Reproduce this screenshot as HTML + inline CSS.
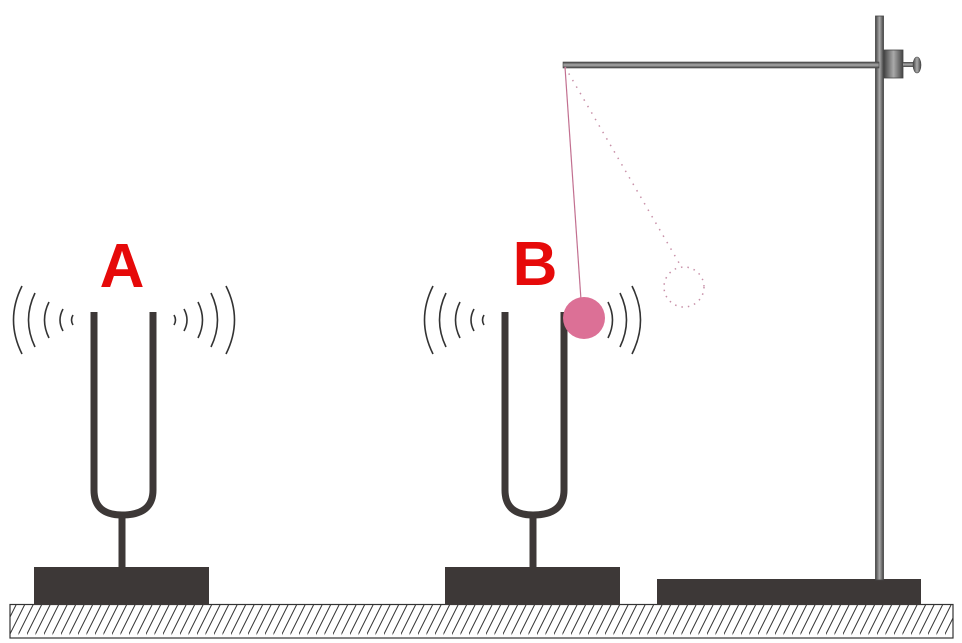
<!DOCTYPE html>
<html><head><meta charset="utf-8"><style>
html,body{margin:0;padding:0;background:#fff;}
svg{display:block;}
</style></head><body>
<svg width="962" height="643" viewBox="0 0 962 643" xmlns="http://www.w3.org/2000/svg">
<defs>
<pattern id="h" patternUnits="userSpaceOnUse" width="8.5" height="34" patternTransform="translate(10,604)">
<line x1="-4" y1="38" x2="17" y2="-4" stroke="#333" stroke-width="1"/>
<line x1="-12.5" y1="38" x2="8.5" y2="-4" stroke="#333" stroke-width="1"/>
</pattern>
<linearGradient id="rod" x1="0" y1="0" x2="1" y2="0">
<stop offset="0" stop-color="#444"/><stop offset="0.5" stop-color="#aaa"/><stop offset="1" stop-color="#444"/>
</linearGradient>
<linearGradient id="arm" x1="0" y1="0" x2="0" y2="1">
<stop offset="0" stop-color="#444"/><stop offset="0.5" stop-color="#aaa"/><stop offset="1" stop-color="#444"/>
</linearGradient>
</defs>
<!-- ground -->
<rect x="10" y="604.5" width="943" height="33.5" fill="url(#h)" stroke="#333" stroke-width="1.2"/>
<!-- bases -->
<rect x="34" y="567" width="175" height="38" fill="#3d3837"/>
<rect x="445" y="567" width="175" height="38" fill="#3d3837"/>
<rect x="657" y="579" width="264" height="26" fill="#3d3837"/>
<!-- fork A -->
<path d="M94 312 V490 Q94 515 122 515 Q153 515 153 490 V312" fill="none" stroke="#3d3837" stroke-width="7"/>
<line x1="122" y1="515" x2="122" y2="568" stroke="#3d3837" stroke-width="7"/>
<!-- fork B -->
<path d="M505 312 V490 Q505 515 533 515 Q564 515 564 490 V312" fill="none" stroke="#3d3837" stroke-width="7"/>
<line x1="533" y1="515" x2="533" y2="568" stroke="#3d3837" stroke-width="7"/>
<!-- waves A -->
<g fill="none" stroke="#333" stroke-width="1.6">
<path d="M22 286 Q5 320 22 354"/>
<path d="M35 293 Q22 320 35 347"/>
<path d="M49 302 Q40 320 49 338"/>
<path d="M63 309 Q57 320 63 331"/>
<path d="M73 315 Q70 320 73 325"/>
<path d="M174 315 Q177 320 174 325"/>
<path d="M184 309 Q190 320 184 331"/>
<path d="M198 302 Q207 320 198 338"/>
<path d="M211 293 Q224 320 211 347"/>
<path d="M226 286 Q243 320 226 354"/>
<!-- waves B -->
<path d="M433 286 Q416 320 433 354"/>
<path d="M446 293 Q433 320 446 347"/>
<path d="M460 302 Q451 320 460 338"/>
<path d="M474 309 Q468 320 474 331"/>
<path d="M484 315 Q481 320 484 325"/>
<path d="M608 302 Q617 320 608 338"/>
<path d="M620 293 Q633 320 620 347"/>
<path d="M632 286 Q649 320 632 354"/>
</g>
<!-- stand rod -->
<rect x="875.5" y="16" width="8" height="564" fill="url(#rod)" stroke="#444" stroke-width="0.8"/>
<rect x="563" y="62" width="316" height="6" fill="url(#arm)" stroke="#444" stroke-width="0.6"/>
<rect x="884" y="50" width="19" height="28" fill="url(#rod)" stroke="#444" stroke-width="0.8"/>
<rect x="903" y="62" width="10" height="5" fill="url(#arm)"/>
<ellipse cx="917" cy="65" rx="4" ry="8" fill="url(#rod)" stroke="#444" stroke-width="0.6"/>
<!-- pendulum -->
<line x1="565" y1="67" x2="682" y2="268" stroke="#c890a8" stroke-width="1.5" stroke-dasharray="1.5 6"/>
<circle cx="684" cy="287" r="20" fill="none" stroke="#c890a8" stroke-width="1.5" stroke-dasharray="1.5 5"/>
<line x1="565" y1="67" x2="581" y2="300" stroke="#c27090" stroke-width="1.2"/>
<circle cx="584" cy="318" r="21" fill="#dc7096"/>
<!-- labels -->
<text x="122" y="287" text-anchor="middle" font-family="Liberation Sans, sans-serif" font-weight="bold" font-size="62" fill="#e60a0a">A</text>
<text x="535" y="285" text-anchor="middle" font-family="Liberation Sans, sans-serif" font-weight="bold" font-size="62" fill="#e60a0a">B</text>
</svg>
</body></html>
